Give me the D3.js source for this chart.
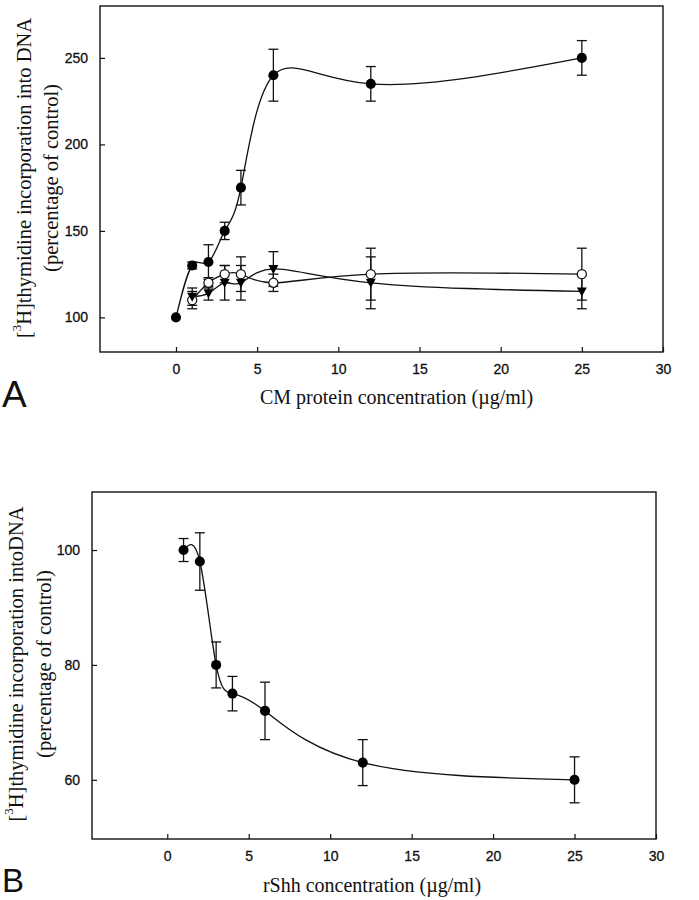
<!DOCTYPE html>
<html><head><meta charset="utf-8">
<script src="https://cdn.jsdelivr.net/npm/d3@7"></script>
<style>body{margin:0;background:#fff}svg{display:block}</style>
</head><body>
<svg id="c" width="699" height="900"></svg>
<script>
// ---- data ----
const xTicks = [0, 5, 10, 15, 20, 25, 30];

const concA = [0, 1, 2, 3, 4, 6, 12, 25];
const filledA = [100, 130, 132, 150, 175, 240, 235, 250];
const filledAErr = [0, 2, 10, 5, 10, 15, 10, 10];

const concA2 = [1, 2, 3, 4, 6, 12, 25];
const openA = [110, 120, 125, 125, 120, 125, 125];
const openAErr = [5, 3, 5, 10, 5, 15, 15];
const triA = [112, 114, 120, 120, 128, 120, 115];
const triAErr = [5, 4, 10, 10, 10, 15, 10];
const yTicksA = [100, 150, 200, 250];

const concB = [1, 2, 3, 4, 6, 12, 25];
const valB = [100, 98, 80, 75, 72, 63, 60];
const errB = [2, 5, 4, 3, 5, 4, 4];
const yTicksB = [60, 80, 100];

const svg = d3.select('#c');
const sans = 'Liberation Sans, Arial, sans-serif';
const serif = 'Liberation Serif, Times New Roman, serif';

function panel(o) {
  const x = d3.scaleLinear().domain(o.xDom).range([o.left, o.right]);
  const y = d3.scaleLinear().domain(o.yDom).range([o.bottom, o.top]);
  const g = svg.append('g');
  // frame
  g.append('rect').attr('x', o.left).attr('y', o.top)
    .attr('width', o.right - o.left).attr('height', o.bottom - o.top)
    .attr('fill', 'none').attr('stroke', '#111').attr('stroke-width', 1.4);
  // axes (inward ticks)
  const xa = g.append('g').attr('transform', `translate(0,${o.bottom})`)
    .call(d3.axisBottom(x).tickValues(xTicks).tickSizeInner(-5).tickSizeOuter(0).tickPadding(12));
  const ya = g.append('g').attr('transform', `translate(${o.left},0)`)
    .call(d3.axisLeft(y).tickValues(o.yTicks).tickSizeInner(-5).tickSizeOuter(0).tickPadding(12));
  [xa, ya].forEach(a => {
    a.select('.domain').remove();
    a.selectAll('line').attr('stroke', '#111').attr('stroke-width', 1.2);
    a.selectAll('text').attr('font-family', sans).attr('font-size', 14).attr('fill', '#111')
      .attr('stroke', '#111').attr('stroke-width', 0.3);
  });
  // series
  o.series.forEach(s => {
    const pts = s.xs.map((v, i) => ({x: v, y: s.ys[i], e: s.es[i]}));
    g.append('path').datum(pts)
      .attr('d', d3.line().x(d => x(d.x)).y(d => y(d.y)).curve(d3.curveNatural))
      .attr('fill', 'none').attr('stroke', '#111').attr('stroke-width', 1.3);
    s.pts = pts;
  });
  o.series.forEach(s => {
    const eb = g.append('g').selectAll('g').data(s.pts.filter(d => d.e > 0)).join('g');
    eb.append('line').attr('x1', d => x(d.x)).attr('x2', d => x(d.x))
      .attr('y1', d => y(d.y - d.e)).attr('y2', d => y(d.y + d.e));
    eb.append('line').attr('x1', d => x(d.x) - 5).attr('x2', d => x(d.x) + 5)
      .attr('y1', d => y(d.y - d.e)).attr('y2', d => y(d.y - d.e));
    eb.append('line').attr('x1', d => x(d.x) - 5).attr('x2', d => x(d.x) + 5)
      .attr('y1', d => y(d.y + d.e)).attr('y2', d => y(d.y + d.e));
    eb.selectAll('line').attr('stroke', '#111').attr('stroke-width', 1.3);
  });
  o.series.forEach(s => {
    const m = g.append('g').selectAll('.m').data(s.pts).join('path')
      .attr('transform', d => `translate(${x(d.x)},${y(d.y)})`);
    if (s.type === 'filled') {
      m.attr('d', d3.symbol(d3.symbolCircle, 80)).attr('fill', '#000');
    } else if (s.type === 'open') {
      m.attr('d', d3.symbol(d3.symbolCircle, 66)).attr('fill', '#fff').attr('stroke', '#111').attr('stroke-width', 1.2);
    } else {
      m.attr('d', 'M-5,-4L5,-4L0,5Z').attr('fill', '#000');
    }
  });
  // axis titles
  g.append('text').attr('x', (o.left + o.right) / 2 + o.xTitleDx).attr('y', o.xTitleY)
    .attr('text-anchor', 'middle').attr('font-family', serif).attr('font-size', 20)
    .attr('fill', '#111').text(o.xTitle);
  const yt = g.append('text').attr('transform', `translate(${o.yTitleX1},${o.yTitleCy}) rotate(-90)`)
    .attr('text-anchor', 'middle').attr('dominant-baseline', 'central')
    .attr('font-family', serif).attr('font-size', 20.5).attr('fill', '#111');
  yt.append('tspan').text('[');
  yt.append('tspan').attr('font-size', 13).attr('baseline-shift', 'super').text('3');
  yt.append('tspan').text(o.yTitle1);
  g.append('text').attr('transform', `translate(${o.yTitleX2},${o.yTitleCy}) rotate(-90)`)
    .attr('text-anchor', 'middle').attr('dominant-baseline', 'central')
    .attr('font-family', serif).attr('font-size', 20.5).attr('fill', '#111').text('(percentage of control)');
  g.append('text').attr('x', 2).attr('y', o.letterY).attr('font-family', sans)
    .attr('font-size', o.letterSize).attr('fill', '#111').text(o.letter);
}

panel({
  left: 100, right: 663, top: 6, bottom: 352,
  xDom: [-4.68, 30], yDom: [80, 280], yTicks: yTicksA,
  series: [
    {xs: concA, ys: filledA, es: filledAErr, type: 'filled'},
    {xs: concA2, ys: openA, es: openAErr, type: 'open'},
    {xs: concA2, ys: triA, es: triAErr, type: 'tri'}
  ],
  xTitle: 'CM protein concentration (\u00b5g/ml)', xTitleDx: 15, xTitleY: 404,
  yTitle1: 'H]thymidine incorporation into DNA',
  yTitleX1: 24, yTitleX2: 51, yTitleCy: 178,
  letter: 'A', letterY: 407, letterSize: 37
});

panel({
  left: 92, right: 656, top: 492, bottom: 839,
  xDom: [-4.62, 30], yDom: [49.7, 110.1], yTicks: yTicksB,
  series: [
    {xs: concB, ys: valB, es: errB, type: 'filled'}
  ],
  xTitle: 'rShh concentration (\u00b5g/ml)', xTitleDx: -2, xTitleY: 892,
  yTitle1: 'H]thymidine incorporation intoDNA',
  yTitleX1: 16, yTitleX2: 44, yTitleCy: 664,
  letter: 'B', letterY: 892, letterSize: 33
});
</script>
</body></html>
